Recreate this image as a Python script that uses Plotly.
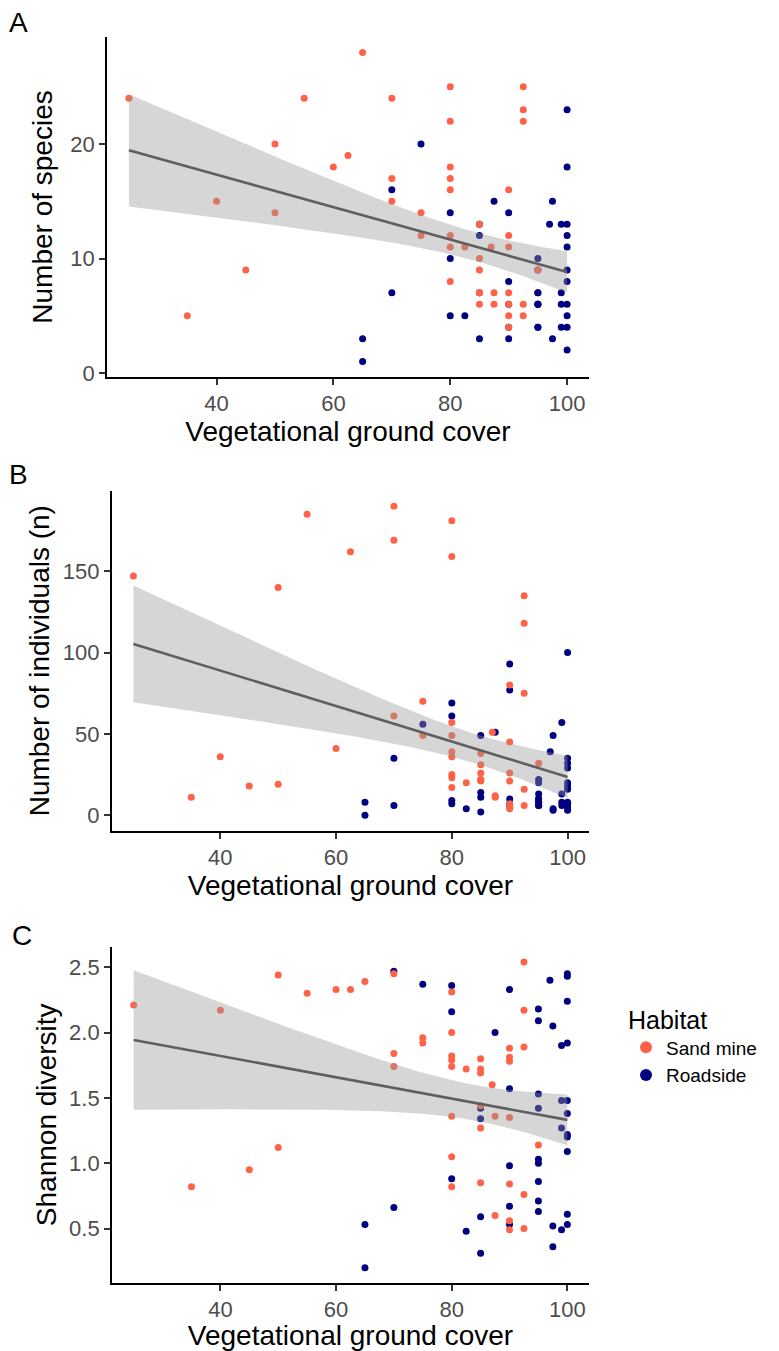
import numpy as np
import plotly.graph_objects as go

SAND_COLOR = "#FF6347"
ROAD_COLOR = "#000080"
FONT = "Liberation Sans, Arial, Helvetica, sans-serif"

# ---- Panel A: number of species -------------------------------------------
a_sand_cover = [25, 35, 40, 45, 50, 50, 55, 60, 62.5, 65, 70, 70, 70, 75, 75,
                80, 80, 80, 80, 80, 80, 80, 80, 82.5, 85, 85, 85, 85, 85, 85,
                87, 87.5, 87.5, 90, 90, 90, 90, 90, 90, 90, 92.5, 92.5, 92.5,
                92.5, 92.5, 95]
a_sand_species = [24, 5, 15, 9, 20, 14, 24, 18, 19, 28, 24, 17, 15, 14, 12,
                  25, 22, 18, 17, 16, 12, 11, 8, 11, 13, 10, 9, 7, 7, 6,
                  11, 7, 6, 16, 12, 11, 7, 6, 5, 4, 25, 23, 22,
                  6, 5, 9]
a_road_cover = [100, 75, 100, 70, 87.5, 97.5, 80, 90, 97, 99, 100, 85, 100,
                100, 80, 95, 100, 90, 100, 70, 95, 99, 95, 99, 100, 80,
                82.5, 100, 95, 99, 100, 65, 85, 90, 97.5, 100, 65, 85,
                95, 95, 95, 95, 95, 90, 90, 85]
a_road_species = [23, 20, 18, 16, 15, 15, 14, 14, 13, 13, 13, 12, 12,
                  11, 10, 10, 9, 8, 8, 7, 7, 7, 6, 6, 6, 5,
                  5, 5, 4, 4, 4, 3, 3, 3, 3, 2, 1, 13,
                  9, 7, 6, 6, 4, 6, 4, 7]

# ---- Panel B: number of individuals ---------------------------------------
b_sand_cover = [25, 35, 40, 45, 50, 50, 55, 60, 62.5, 70, 70, 70, 75, 75, 80,
                80, 80, 80, 80, 80, 80, 80, 80, 82.5, 85, 85, 85, 85, 85, 85,
                87, 87.5, 87.5, 90, 90, 90, 90, 90, 90, 90, 92.5, 92.5, 92.5,
                92.5, 92.5, 95]
b_sand_individuals = [147, 11, 36, 18, 140, 19, 185, 41, 162, 190, 169, 61, 70,
                      49, 181, 159, 57, 49, 39, 36, 25, 23, 17, 20, 38, 31, 26,
                      22, 22, 21, 51, 11, 12, 80, 45, 26, 21, 7, 5, 4, 135, 118,
                      75, 16, 6, 32]
b_road_cover = [100, 90, 90, 80, 80, 75, 99, 87.5, 85, 97.5, 97, 70, 100, 100,
                100, 95, 95, 100, 100, 100, 99, 85, 85, 90, 95, 95, 95, 95, 80,
                80, 97.5, 97.5, 99, 99, 100, 100, 100, 100, 82.5, 85, 65, 65,
                70, 95, 95, 95, 90, 90]
b_road_individuals = [100, 93, 77, 69, 61, 56, 57, 51, 49, 49, 39, 35, 35, 32,
                      29, 22, 20, 20, 18, 16, 13, 14, 11, 10, 13, 10, 8, 6, 9,
                      7, 4, 3, 8, 6, 8, 7, 5, 3, 4, 2, 8, 0,
                      6, 8, 6, 10, 5, 7]

# ---- Panel C: Shannon diversity -------------------------------------------
c_sand_cover = [25, 35, 40, 45, 50, 50, 55, 60, 62.5, 65, 70, 70, 70, 75, 75,
                80, 80, 80, 80, 80, 80, 80, 80, 82.5, 85, 85, 85, 85, 85, 85,
                87, 87.5, 87.5, 90, 90, 90, 90, 90, 90, 90, 92.5, 92.5, 92.5,
                92.5, 92.5, 95]
c_sand_shannon = [2.21, 0.82, 2.17, 0.95, 2.44, 1.12, 2.30, 2.33, 2.33, 2.39,
                  2.45, 1.84, 1.74, 1.96, 1.92, 2.31, 2.00, 1.82, 1.79, 1.74,
                  1.36, 1.05, 0.82, 1.72, 1.80, 1.72, 1.69, 1.44, 1.27, 0.85,
                  1.60, 1.36, 0.60, 1.88, 1.81, 1.78, 1.35, 0.84, 0.56, 0.49,
                  2.54, 2.17, 1.89, 0.76, 0.50, 1.14]
c_road_cover = [70, 75, 80, 80, 90, 87.5, 95, 95, 97, 97.5, 100, 100, 100, 99,
                100, 90, 95, 99, 100, 85, 95, 100, 85, 99, 100, 100, 100, 95,
                95, 90, 80, 95, 70, 65, 65, 82.5, 85, 85, 97.5, 99, 100, 100,
                95, 95, 90, 90, 97.5]
c_road_shannon = [2.47, 2.37, 2.36, 2.16, 2.33, 2.00, 2.18, 2.09, 2.40, 2.05,
                  2.45, 2.43, 2.24, 1.90, 1.92, 1.57, 1.53, 1.48, 1.48, 1.42,
                  1.42, 1.38, 1.34, 1.27, 1.22, 1.20, 1.09, 1.03, 1.00, 0.98,
                  0.88, 0.86, 0.66, 0.53, 0.20, 0.48, 0.59, 0.31, 0.52, 0.49,
                  0.53, 0.61, 0.71, 0.63, 0.67, 0.53, 0.36]

X_TICKS = [40, 60, 80, 100]
A_TICKS = [0, 10, 20]
B_TICKS = [0, 50, 100, 150]
C_TICKS = [0.5, 1.0, 1.5, 2.0, 2.5]
C_TICKTEXT = ["0.5", "1.0", "1.5", "2.0", "2.5"]

T_975 = 1.984  # two-sided 95% t quantile, ~90 residual df


def lm_band(x, y, n_grid=80):
    """Ordinary least squares fit with a 95% confidence band (like geom_smooth)."""
    x = np.asarray(x, float)
    y = np.asarray(y, float)
    n = len(x)
    xbar = x.mean()
    sxx = ((x - xbar) ** 2).sum()
    slope = ((x - xbar) * (y - y.mean())).sum() / sxx
    intercept = y.mean() - slope * xbar
    resid = y - (intercept + slope * x)
    s2 = (resid ** 2).sum() / (n - 2)
    grid = np.linspace(x.min(), x.max(), n_grid)
    fit = intercept + slope * grid
    se = np.sqrt(s2 * (1.0 / n + (grid - xbar) ** 2 / sxx))
    return grid, fit, fit - T_975 * se, fit + T_975 * se


fig = go.Figure()

panels = [
    ("x", "y", a_sand_cover, a_sand_species, a_road_cover, a_road_species),
    ("x2", "y2", b_sand_cover, b_sand_individuals, b_road_cover, b_road_individuals),
    ("x3", "y3", c_sand_cover, c_sand_shannon, c_road_cover, c_road_shannon),
]

for i, (xa, ya, sx, sy, rx, ry) in enumerate(panels):
    first = i == 0
    fig.add_trace(go.Scatter(
        x=rx, y=ry, mode="markers", xaxis=xa, yaxis=ya,
        marker=dict(color=ROAD_COLOR, size=7, line=dict(width=0)),
        name="Roadside", legendgroup="road", showlegend=first, legendrank=2,
        hoverinfo="skip"))
    fig.add_trace(go.Scatter(
        x=sx, y=sy, mode="markers", xaxis=xa, yaxis=ya,
        marker=dict(color=SAND_COLOR, size=7, line=dict(width=0)),
        name="Sand mine", legendgroup="sand", showlegend=first, legendrank=1,
        hoverinfo="skip"))
    grid, fit, lo, hi = lm_band(list(sx) + list(rx), list(sy) + list(ry))
    fig.add_trace(go.Scatter(
        x=np.concatenate([grid, grid[::-1]]), y=np.concatenate([hi, lo[::-1]]),
        mode="lines", fill="toself", fillcolor="rgba(153,153,153,0.4)",
        line=dict(width=0), xaxis=xa, yaxis=ya, showlegend=False,
        hoverinfo="skip"))
    fig.add_trace(go.Scatter(
        x=grid, y=fit, mode="lines", line=dict(color="#5f5f5f", width=2.6),
        xaxis=xa, yaxis=ya, showlegend=False, hoverinfo="skip"))

W, H = 779, 1351


def px_x(a, b):
    return [a / W, b / W]


def px_y(top, bottom):
    return [1 - bottom / H, 1 - top / H]


# plot-area boxes in pixels: (left, right, top, bottom)
BOX_A = (107, 589, 37, 377)
BOX_B = (111.7, 589.3, 490.7, 830.7)
BOX_C = (112, 589, 946.7, 1283)

axis_common = dict(
    showline=True, linecolor="black", linewidth=1.8, mirror=False,
    ticks="outside", ticklen=6, tickwidth=1.6, tickcolor="#333333",
    tickfont=dict(family=FONT, size=22, color="#4D4D4D"),
    showgrid=False, zeroline=False, automargin=False,
)
TITLE_FONT = dict(family=FONT, size=28, color="black")
x_title = dict(text="Vegetational ground cover", font=TITLE_FONT, standoff=0)

fig.update_layout(
    width=W, height=H, margin=dict(l=0, r=0, t=0, b=0),
    paper_bgcolor="white", plot_bgcolor="white",
    font=dict(family=FONT),
    xaxis=dict(axis_common, domain=px_x(*BOX_A[:2]), range=[21.25, 103.75],
               tickvals=X_TICKS, anchor="y", title=x_title),
    yaxis=dict(axis_common, domain=px_y(*BOX_A[2:]), range=[-0.35, 29.35],
               tickvals=A_TICKS, anchor="x",
               title=dict(text="Number of species", font=TITLE_FONT,
                          standoff=9)),
    xaxis2=dict(axis_common, domain=px_x(*BOX_B[:2]), range=[21.25, 103.75],
                tickvals=X_TICKS, anchor="y2", title=x_title),
    yaxis2=dict(axis_common, domain=px_y(*BOX_B[2:]), range=[-9.5, 199.5],
                tickvals=B_TICKS, anchor="x2",
                title=dict(text="Number of individuals (n)", font=TITLE_FONT,
                           standoff=5)),
    xaxis3=dict(axis_common, domain=px_x(*BOX_C[:2]), range=[21.25, 103.75],
                tickvals=X_TICKS, anchor="y3", title=x_title),
    yaxis3=dict(axis_common, domain=px_y(*BOX_C[2:]), range=[0.083, 2.657],
                tickvals=C_TICKS, ticktext=C_TICKTEXT, anchor="x3",
                title=dict(text="Shannon diversity", font=TITLE_FONT,
                           standoff=4)),
    legend=dict(
        x=626 / W, y=1 - 996 / H, xanchor="left", yanchor="top",
        title=dict(text="Habitat", font=dict(family=FONT, size=25, color="black")),
        font=dict(family=FONT, size=19, color="black"),
        bgcolor="rgba(0,0,0,0)", tracegroupgap=0, itemsizing="constant",
    ),
    showlegend=True,
)

for label, xp, yp in [("A", 18, 22), ("B", 18, 475), ("C", 22, 935)]:
    fig.add_annotation(text=label, x=xp / W, y=1 - yp / H, xref="paper",
                       yref="paper", showarrow=False, xanchor="center",
                       yanchor="middle",
                       font=dict(family=FONT, size=28, color="black"))

fig.write_html("out.html")
